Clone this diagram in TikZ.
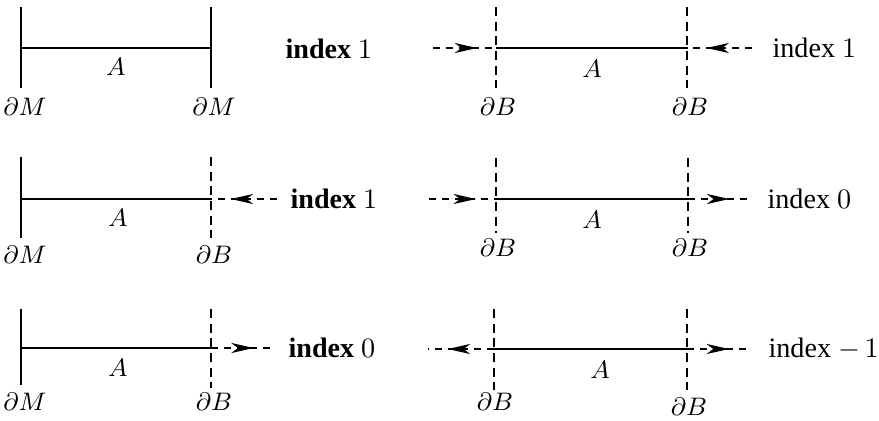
\documentclass[tikz,border=0pt]{standalone}
\usepackage{fontspec}
\setmainfont{Liberation Serif}
\usetikzlibrary{positioning,arrows.meta,decorations.markings}

\begin{document}
\begin{tikzpicture}[
  x=0.0125cm, y=-0.0125cm,
  wall/.style={line width=0.5pt, draw=black},
  dwall/.style={line width=0.5pt, draw=black, dash pattern=on 3.2pt off 2pt},
  seg/.style={line width=0.5pt, draw=black},
  flow/.style={line width=0.5pt, draw=black, dash pattern=on 2.6pt off 2pt,
    postaction={decorate},
    decoration={markings, mark=at position 0.7 with {\arrow{Stealth[length=8pt, width=3.6pt, inset=2.4pt]}}}},
  lbl/.style={inner sep=0pt, font=\fontsize{9.5}{11}\selectfont},
  alabel/.style={inner sep=0pt, font=\fontsize{9.5}{11}\selectfont},
  idx/.style={anchor=west, inner sep=0pt, font=\fontsize{10}{12}\selectfont},
]
  \useasboundingbox (0,0) rectangle (879,420);

  % row 1, left: two walls
  \coordinate (w1at) at (21,7);   \coordinate (w1ab) at (21,88);
  \coordinate (w1bt) at (211,7);  \coordinate (w1bb) at (211,88);
  \coordinate (s1a) at (21,48);   \coordinate (s1b) at (211,48);
  \draw[wall] (w1at) -- (w1ab);
  \draw[wall] (w1bt) -- (w1bb);
  \draw[seg] (s1a) -- (s1b);
  \node[alabel] (a1) at (116,67) {$A$};
  \node[lbl] (m1a) at (25,107) {$\partial M$};
  \node[lbl] (m1b) at (214,107) {$\partial M$};
  \node[idx] (i1) at (285,49) {\bfseries index $1$};

  % row 1, right: both ends inward
  \coordinate (w2at) at (496,7);  \coordinate (w2ab) at (496,88);
  \coordinate (w2bt) at (687,7);  \coordinate (w2bb) at (687,88);
  \coordinate (s2a) at (496,48);  \coordinate (s2b) at (687,48);
  \coordinate (o2a) at (433,48);  \coordinate (o2b) at (752,48);
  \draw[dwall] (w2at) -- (w2ab);
  \draw[dwall] (w2bt) -- (w2bb);
  \draw[seg] (s2a) -- (s2b);
  \draw[flow] (o2a) -- (s2a);
  \draw[flow] (o2b) -- (s2b);
  \node[alabel] (a2) at (592,69) {$A$};
  \node[lbl] (b2a) at (498,107) {$\partial B$};
  \node[lbl] (b2b) at (690,107) {$\partial B$};
  \node[idx] (i2) at (772,48) {index $1$};

  % row 2, left
  \coordinate (w3at) at (21,157);  \coordinate (w3ab) at (21,238);
  \coordinate (w3bt) at (211,157); \coordinate (w3bb) at (211,238);
  \coordinate (s3a) at (21,199);   \coordinate (s3b) at (211,199);
  \coordinate (o3b) at (277,199);
  \draw[wall] (w3at) -- (w3ab);
  \draw[dwall] (w3bt) -- (w3bb);
  \draw[seg] (s3a) -- (s3b);
  \draw[flow] (o3b) -- (s3b);
  \node[alabel] (a3) at (118,218) {$A$};
  \node[lbl] (m3a) at (25,255) {$\partial M$};
  \node[lbl] (b3b) at (214,255) {$\partial B$};
  \node[idx] (i3) at (290,199) {\bfseries index $1$};

  % row 2, right
  \coordinate (w4at) at (496,158); \coordinate (w4ab) at (496,233);
  \coordinate (w4bt) at (688,158); \coordinate (w4bb) at (688,233);
  \coordinate (s4a) at (496,199);  \coordinate (s4b) at (688,199);
  \coordinate (o4a) at (429,199);  \coordinate (o4b) at (747,199);
  \draw[dwall] (w4at) -- (w4ab);
  \draw[dwall] (w4bt) -- (w4bb);
  \draw[seg] (s4a) -- (s4b);
  \draw[flow] (o4a) -- (s4a);
  \draw[flow] (s4b) -- (o4b);
  \node[alabel] (a4) at (592,220) {$A$};
  \node[lbl] (b4a) at (498,248) {$\partial B$};
  \node[lbl] (b4b) at (690,248) {$\partial B$};
  \node[idx] (i4) at (767,199) {index $0$};

  % row 3, left
  \coordinate (w5at) at (21,309);  \coordinate (w5ab) at (21,385);
  \coordinate (w5bt) at (211,309); \coordinate (w5bb) at (211,388);
  \coordinate (s5a) at (21,348);   \coordinate (s5b) at (211,348);
  \coordinate (o5b) at (272,348);
  \draw[wall] (w5at) -- (w5ab);
  \draw[dwall] (w5bt) -- (w5bb);
  \draw[seg] (s5a) -- (s5b);
  \draw[flow] (s5b) -- (o5b);
  \node[alabel] (a5) at (118,368) {$A$};
  \node[lbl] (m5a) at (25,402) {$\partial M$};
  \node[lbl] (b5b) at (214,402) {$\partial B$};
  \node[idx] (i5) at (288,348) {\bfseries index $0$};

  % row 3, right: both ends outward
  \coordinate (w6at) at (494,309); \coordinate (w6ab) at (494,390);
  \coordinate (w6bt) at (687,309); \coordinate (w6bb) at (687,390);
  \coordinate (s6a) at (494,349);  \coordinate (s6b) at (687,349);
  \coordinate (o6a) at (428,349);  \coordinate (o6b) at (747,349);
  \draw[dwall] (w6at) -- (w6ab);
  \draw[dwall] (w6bt) -- (w6bb);
  \draw[seg] (s6a) -- (s6b);
  \draw[flow] (s6a) -- (o6a);
  \draw[flow] (s6b) -- (o6b);
  \node[alabel] (a6) at (600,370) {$A$};
  \node[lbl] (b6a) at (495,402) {$\partial B$};
  \node[lbl] (b6b) at (689,407) {$\partial B$};
  \node[idx] (i6) at (768,349) {index $-\,1$};
\end{tikzpicture}
\end{document}
